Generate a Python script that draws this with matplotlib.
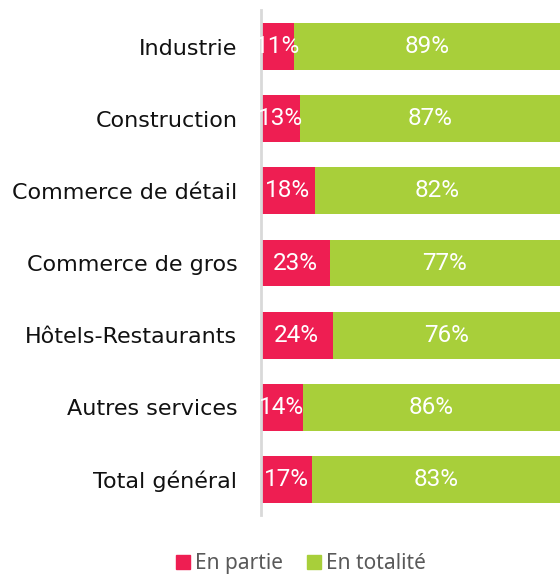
import matplotlib
matplotlib.use("Agg")
import matplotlib.pyplot as plt
from matplotlib.patches import Patch

categories = ["Industrie", "Construction", "Commerce de détail", "Commerce de gros",
              "Hôtels-Restaurants", "Autres services", "Total général"]
en_partie = [11, 13, 18, 23, 24, 14, 17]
en_totalite = [89, 87, 82, 77, 76, 86, 83]
series_names = ["En partie", "En totalité"]

RED = "#EE1E52"
GREEN = "#A8CF3A"

fig = plt.figure(figsize=(5.6, 5.74), dpi=100)
ax = fig.add_axes([0.466, 0.103, 0.534, 0.880])

y = list(range(len(categories)))
h = 0.65
ax.barh(y, en_partie, height=h, color=RED, label=series_names[0])
ax.barh(y, en_totalite, left=en_partie, height=h, color=GREEN, label=series_names[1])

for i in y:
    ax.text(en_partie[i] / 2, i, f"{en_partie[i]}%", ha="center", va="center",
            color="white", fontsize=17.5, family="Roboto")
    ax.text(en_partie[i] + en_totalite[i] / 2, i, f"{en_totalite[i]}%", ha="center",
            va="center", color="white", fontsize=17.5, family="Roboto")

ax.set_xlim(0, 100)
ax.set_ylim(len(categories) - 0.51, -0.51)
ax.set_yticks(y)
ax.set_yticklabels(categories, fontsize=16, family="DejaVu Sans", color="#111111")
ax.tick_params(axis="y", length=0, pad=17)
ax.set_xticks([])
for s in ["top", "right", "bottom"]:
    ax.spines[s].set_visible(False)
ax.spines["left"].set_color("#D9D9D9")
ax.spines["left"].set_linewidth(2)

handles = [Patch(color=RED, label=series_names[0]), Patch(color=GREEN, label=series_names[1])]
leg = fig.legend(handles=handles, loc="center", bbox_to_anchor=(0.5375, 0.018), ncol=2,
                 frameon=False, prop={"family": "Noto Sans", "size": 15},
                 handlelength=0.67, handleheight=0.67, handletextpad=0.25, columnspacing=1.15,
                 borderpad=0, borderaxespad=0)
for t in leg.get_texts():
    t.set_color("#595959")

fig.savefig("out.png", dpi=100)
